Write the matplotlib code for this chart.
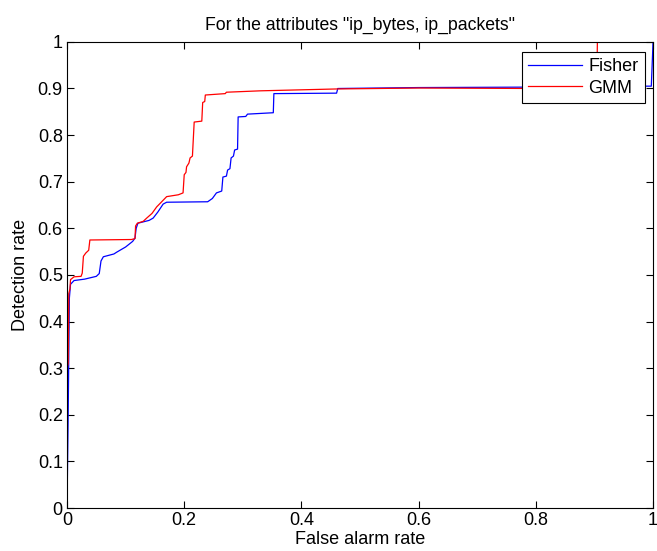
import matplotlib
matplotlib.use("Agg")
import matplotlib.pyplot as plt

plt.rcParams['font.family'] = ['Liberation Sans', 'DejaVu Sans']

fisher_fpr = [0, 0.002, 0.004, 0.006, 0.012, 0.03, 0.05, 0.055, 0.058, 0.062, 0.08, 0.085, 0.1, 0.112,
              0.116, 0.118, 0.121, 0.14, 0.147, 0.155, 0.164, 0.17, 0.24, 0.248, 0.255, 0.264, 0.266,
              0.272, 0.274, 0.278, 0.28, 0.284, 0.286, 0.291, 0.292, 0.305, 0.308, 0.352, 0.353, 0.46,
              0.462, 0.6, 0.8, 0.95, 0.997, 1.0]
fisher_tpr = [0, 0.2, 0.45, 0.48, 0.488, 0.491, 0.497, 0.503, 0.53, 0.539, 0.545, 0.549, 0.56, 0.572,
              0.579, 0.6, 0.611, 0.617, 0.622, 0.635, 0.652, 0.656, 0.657, 0.664, 0.676, 0.68, 0.71,
              0.712, 0.725, 0.728, 0.751, 0.755, 0.768, 0.77, 0.839, 0.84, 0.845, 0.848, 0.889, 0.89,
              0.9, 0.902, 0.903, 0.905, 0.905, 1.0]

gmm_fpr = [0, 0, 0.002, 0.003, 0.005, 0.006, 0.012, 0.024, 0.026, 0.028, 0.032, 0.037, 0.039, 0.11,
           0.116, 0.117, 0.12, 0.13, 0.136, 0.145, 0.153, 0.16, 0.17, 0.19, 0.198, 0.2, 0.203, 0.204,
           0.208, 0.21, 0.214, 0.217, 0.23, 0.2315, 0.235, 0.236, 0.27, 0.272, 0.33, 0.46, 0.6, 0.8,
           0.904, 0.905, 1.0]
gmm_tpr = [0, 0.3, 0.31, 0.46, 0.47, 0.49, 0.496, 0.497, 0.504, 0.54, 0.547, 0.553, 0.575, 0.576,
           0.578, 0.605, 0.611, 0.615, 0.622, 0.632, 0.646, 0.655, 0.668, 0.672, 0.676, 0.715, 0.72,
           0.732, 0.74, 0.751, 0.755, 0.828, 0.83, 0.87, 0.872, 0.886, 0.889, 0.892, 0.895, 0.899,
           0.901, 0.9, 0.902, 1.0, 1.0]

series_names = ["Fisher", "GMM"]
title = 'For the attributes "ip_bytes, ip_packets"'

fig = plt.figure(figsize=(6.57, 5.51), dpi=100)
ax = fig.add_axes([0.102, 0.078, 0.892, 0.846])
ax.plot(fisher_fpr, fisher_tpr, color='#0000ff', lw=0.9, label=series_names[0])
ax.plot(gmm_fpr, gmm_tpr, color='#ff0000', lw=0.9, label=series_names[1])
ax.set_xlim(0, 1)
ax.set_ylim(0, 1)
ax.set_xticks([0, 0.2, 0.4, 0.6, 0.8, 1])
ax.set_xticklabels(['0', '0.2', '0.4', '0.6', '0.8', '1'])
ax.set_yticks([i / 10 for i in range(11)])
ax.set_yticklabels(['0'] + ['0.%d' % i for i in range(1, 10)] + ['1'])
ax.tick_params(direction='in', top=True, right=True, labelsize=13, length=5, pad=3)
for s in ax.spines.values():
    s.set_linewidth(0.8)
ax.set_xlabel('False alarm rate', fontsize=13, labelpad=1)
ax.set_ylabel('Detection rate', fontsize=13, labelpad=6)
ax.set_title(title, fontsize=12.7, pad=9)
leg = ax.legend(loc='upper right', fontsize=13, fancybox=False, framealpha=1, edgecolor='black',
                bbox_to_anchor=(0.9863, 0.9785), borderaxespad=0, handlelength=3.0,
                borderpad=0.35, labelspacing=0.25, handletextpad=0.35)
leg.get_frame().set_linewidth(0.8)
fig.savefig('out.png', dpi=100)
